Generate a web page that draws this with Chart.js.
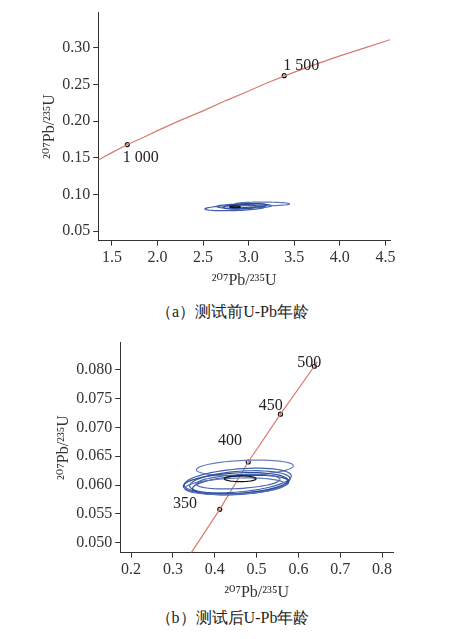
<!DOCTYPE html>
<html><head><meta charset="utf-8">
<script src="https://cdn.jsdelivr.net/npm/chart.js@4.4.0/dist/chart.umd.min.js"></script>
<style>
body{margin:0;background:#fff;font-family:"Liberation Serif","DejaVu Serif",serif;}
.box{position:absolute;left:0;width:465px;}
.cap{position:absolute;left:0;width:465px;text-align:center;font-size:16px;color:#222;}
</style></head><body>
<div class="box" style="top:0;height:290px"><canvas id="c1"></canvas></div>
<div class="cap" style="top:302px">（a）测试前U-Pb年龄</div>
<div class="box" style="top:330px;height:272px"><canvas id="c2"></canvas></div>
<div class="cap" style="top:608px">（b）测试后U-Pb年龄</div>
<script>
// top panel
const curveA = [[1.35,0.147],[1.5,0.157],[1.67,0.168],[1.85,0.178],[2.0,0.187],[2.25,0.201],[2.5,0.214],[2.75,0.228],[3.0,0.241],[3.2,0.252],[3.4,0.262],[3.7,0.276],[4.0,0.289],[4.3,0.301],[4.55,0.311]];
const agesA = [[1.67,0.168],[3.39,0.262]];
const ageLabelsA = [['1 000',1.62,0.150],['1 500',3.38,0.276]];
// ellipses: cx, cy, rx, ry, tilt (dy per dx), colour
const ellA = [
  [2.85,0.0815,0.33,0.0035,0.004,'#3f5fa8'],
  [2.95,0.0840,0.30,0.0030,0.002,'#3f5fa8'],
  [3.15,0.0870,0.30,0.0025,0.000,'#5b77b8'],
  [2.90,0.0830,0.18,0.0030,0.004,'#2a4a9a'],
  [3.00,0.0850,0.20,0.0025,0.003,'#2a4a9a'],
  [2.85,0.0830,0.06,0.0010,0.000,'#111']
];
// bottom panel
const curveB = [[0.344,0.0483],[0.412,0.0558],[0.480,0.0640],[0.557,0.0723],[0.638,0.0806],[0.645,0.0814]];
const agesB = [[0.412,0.0558],[0.480,0.0640],[0.557,0.0723],[0.638,0.0806]];
const ageLabelsB = [['350',0.300,0.0567],['400',0.408,0.0676],['450',0.505,0.0737],['500',0.597,0.0812]];
const ellB = [
  [0.472,0.0630,0.116,0.0013,0.003,'#6b7fc0'],
  [0.455,0.0608,0.128,0.0020,0.006,'#3f5fa8'],
  [0.460,0.0605,0.120,0.0019,0.005,'#3f5fa8'],
  [0.450,0.0603,0.125,0.0018,0.004,'#2a4a9a'],
  [0.462,0.0600,0.115,0.0016,0.005,'#2a4a9a'],
  [0.448,0.0598,0.120,0.0014,0.003,'#5b77b8'],
  [0.456,0.0606,0.100,0.0012,0.004,'#4a66b0'],
  [0.461,0.0611,0.038,0.0005,0.000,'#111']
];

const font = {family:'"Liberation Serif","DejaVu Serif",serif', size:16};
const labelPlugin = {
  id:'extras',
  afterDatasetsDraw(chart, args, opts){
    const {ctx, scales:{x,y}} = chart;
    ctx.save();
    ctx.beginPath();
    ctx.rect(chart.chartArea.left,chart.chartArea.top,chart.chartArea.width,chart.chartArea.height);
    ctx.clip();
    opts.ellipses.forEach(e=>{
      ctx.beginPath();
      for(let i=0;i<=60;i++){
        const a=i/60*2*Math.PI, dx=e[2]*Math.cos(a);
        const px=x.getPixelForValue(e[0]+dx), py=y.getPixelForValue(e[1]+e[3]*Math.sin(a)+dx*e[4]);
        i?ctx.lineTo(px,py):ctx.moveTo(px,py);
      }
      ctx.strokeStyle=e[5]; ctx.lineWidth=1.2; ctx.stroke();
    });
    ctx.restore();
    ctx.save();
    ctx.font='16px "Liberation Serif","DejaVu Serif",serif';
    ctx.fillStyle='#222'; ctx.textBaseline='middle';
    opts.labels.forEach(l=>ctx.fillText(l[0],x.getPixelForValue(l[1]),y.getPixelForValue(l[2])));
    ctx.restore();
  }
};
function axis(min,max,step,title,dec){
  return {type:'linear',min:min,max:max,
    afterBuildTicks(s){ s.ticks=[]; for(let v=Math.ceil(min/step-1e-9)*step; v<=max+1e-9; v+=step) s.ticks.push({value:+v.toFixed(4)}); },
    ticks:{color:'#333',font:font,callback:v=>v.toFixed(dec)},
    grid:{drawOnChartArea:false,drawTicks:true,tickLength:5,color:'#333'},
    border:{display:true,color:'#333'},
    title:{display:true,text:title,color:'#333',font:font,padding:0}};
}
function make(id,curve,ages,ells,labs,xs,ys,pad){
  new Chart(document.getElementById(id),{
    type:'scatter',
    data:{datasets:[
      {data:curve.map(p=>({x:p[0],y:p[1]})),showLine:true,borderColor:'#d97a6e',borderWidth:1.2,pointRadius:0},
      {data:ages.map(p=>({x:p[0],y:p[1]})),pointRadius:2,pointBorderColor:'#111',pointBackgroundColor:'#fff',pointBorderWidth:1.2}
    ]},
    options:{responsive:true,maintainAspectRatio:false,animation:false,
      layout:{padding:pad},
      plugins:{legend:{display:false},tooltip:{enabled:false},extras:{ellipses:ells,labels:labs}},
      scales:{x:axis(...xs),y:axis(...ys)}},
    plugins:[labelPlugin]
  });
}
make('c1',curveA,agesA,ellA,ageLabelsA,[1.35,4.55,0.5,'²⁰⁷Pb/²³⁵U',1],[0.037,0.348,0.05,'²⁰⁷Pb/²³⁵U',2],{left:40,right:75,top:5,bottom:0});
make('c2',curveB,agesB,ellB,ageLabelsB,[0.174,0.826,0.1,'²⁰⁷Pb/²³⁵U',1],[0.0483,0.0847,0.005,'²⁰⁷Pb/²³⁵U',3],{left:54,right:72,top:8,bottom:0});
</script>
</body></html>
